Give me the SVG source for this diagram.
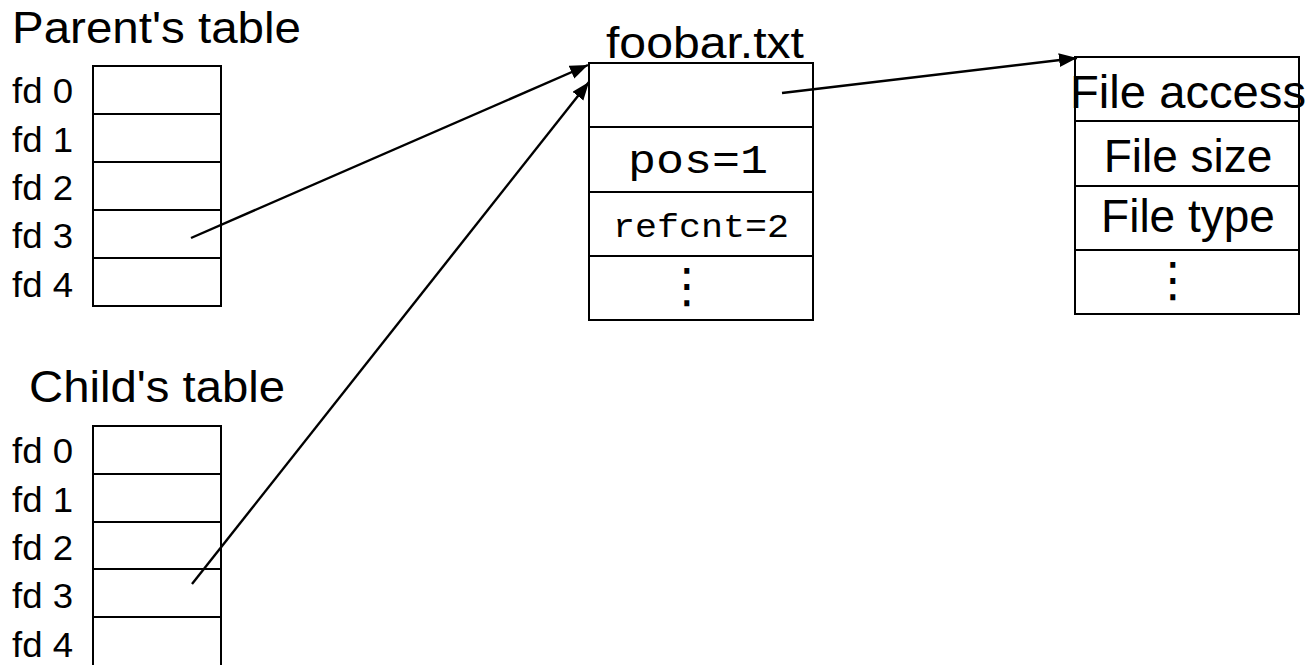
<svg xmlns="http://www.w3.org/2000/svg" width="1308" height="665" viewBox="0 0 1308 665">
<style>
.box{fill:#fff;stroke:#000;stroke-width:2}
.sep{stroke:#000;stroke-width:2}
.t{font-family:"Liberation Sans",Arial,sans-serif;fill:#000}
.m{font-family:"Liberation Mono","Courier New",monospace;fill:#000}
.dots{font-family:"DejaVu Sans","Liberation Sans",sans-serif;fill:#000}
.conn{stroke:#000;stroke-width:2.4;fill:none}
</style>
<defs>
<marker id="ah" markerUnits="userSpaceOnUse" markerWidth="20" markerHeight="16" refX="18" refY="7" orient="auto">
<path d="M0,0 L18,7 L0,14 z" fill="#000"/>
</marker>
</defs>
<rect width="1308" height="665" fill="#fff"/>
<g id="parent-table">
<text class="t" x="12" y="43" font-size="45" textLength="289" lengthAdjust="spacingAndGlyphs">Parent's table</text>
<rect class="box" x="93" y="66" width="128" height="240"/>
<line class="sep" x1="93" y1="114" x2="221" y2="114"/>
<line class="sep" x1="93" y1="162" x2="221" y2="162"/>
<line class="sep" x1="93" y1="210" x2="221" y2="210"/>
<line class="sep" x1="93" y1="258" x2="221" y2="258"/>
<text class="t" x="12" y="103" font-size="35" textLength="61" lengthAdjust="spacingAndGlyphs">fd 0</text>
<text class="t" x="12" y="152" font-size="35" textLength="61" lengthAdjust="spacingAndGlyphs">fd 1</text>
<text class="t" x="12" y="200" font-size="35" textLength="61" lengthAdjust="spacingAndGlyphs">fd 2</text>
<text class="t" x="12" y="248" font-size="35" textLength="61" lengthAdjust="spacingAndGlyphs">fd 3</text>
<text class="t" x="12" y="297" font-size="35" textLength="61" lengthAdjust="spacingAndGlyphs">fd 4</text>
</g>
<g id="child-table">
<text class="t" x="29" y="402" font-size="45" textLength="256" lengthAdjust="spacingAndGlyphs">Child's table</text>
<rect class="box" x="93" y="426" width="128" height="241"/>
<line class="sep" x1="93" y1="474" x2="221" y2="474"/>
<line class="sep" x1="93" y1="522" x2="221" y2="522"/>
<line class="sep" x1="93" y1="569" x2="221" y2="569"/>
<line class="sep" x1="93" y1="617" x2="221" y2="617"/>
<text class="t" x="12" y="463" font-size="35" textLength="61" lengthAdjust="spacingAndGlyphs">fd 0</text>
<text class="t" x="12" y="512" font-size="35" textLength="61" lengthAdjust="spacingAndGlyphs">fd 1</text>
<text class="t" x="12" y="560" font-size="35" textLength="61" lengthAdjust="spacingAndGlyphs">fd 2</text>
<text class="t" x="12" y="608" font-size="35" textLength="61" lengthAdjust="spacingAndGlyphs">fd 3</text>
<text class="t" x="12" y="657" font-size="35" textLength="61" lengthAdjust="spacingAndGlyphs">fd 4</text>
</g>
<g id="open-file">
<text class="t" x="606" y="58" font-size="45" textLength="198" lengthAdjust="spacingAndGlyphs">foobar.txt</text>
<rect class="box" x="589" y="63" width="224" height="257"/>
<line class="sep" x1="589" y1="127" x2="813" y2="127"/>
<line class="sep" x1="589" y1="192" x2="813" y2="192"/>
<line class="sep" x1="589" y1="256" x2="813" y2="256"/>
<text class="m" x="628" y="173" font-size="41" textLength="140" lengthAdjust="spacingAndGlyphs">pos=1</text>
<text class="m" x="613" y="237" font-size="34" textLength="176" lengthAdjust="spacingAndGlyphs">refcnt=2</text>
<text class="dots" x="687" y="302" font-size="48" text-anchor="middle">⋮</text>
</g>
<g id="inode">
<rect class="box" x="1075" y="57" width="224" height="257"/>
<line class="sep" x1="1075" y1="121" x2="1299" y2="121"/>
<line class="sep" x1="1075" y1="186" x2="1299" y2="186"/>
<line class="sep" x1="1075" y1="250" x2="1299" y2="250"/>
<text class="t" x="1070" y="108" font-size="46" textLength="236" lengthAdjust="spacingAndGlyphs">File access</text>
<text class="t" x="1188" y="172" font-size="46" text-anchor="middle">File size</text>
<text class="t" x="1188" y="232" font-size="46" text-anchor="middle">File type</text>
<text class="dots" x="1173" y="296" font-size="48" text-anchor="middle">⋮</text>
</g>
<g id="connectors">
<line class="conn" x1="191" y1="238" x2="588" y2="65" marker-end="url(#ah)"/>
<line class="conn" x1="192" y1="584" x2="589" y2="82" marker-end="url(#ah)"/>
<line class="conn" x1="782" y1="93" x2="1077" y2="58" marker-end="url(#ah)"/>
</g>
</svg>
